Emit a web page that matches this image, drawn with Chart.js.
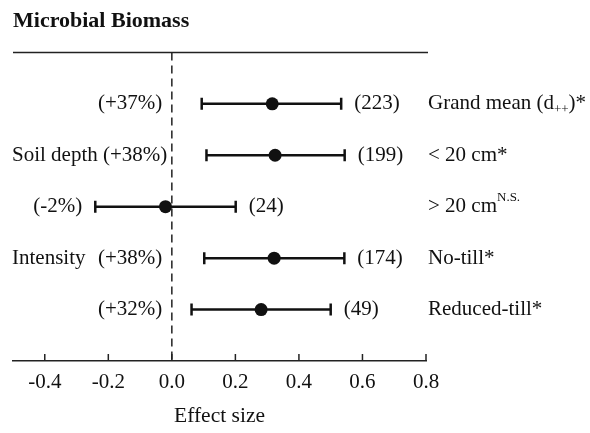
<!DOCTYPE html>
<html>
<head>
<meta charset="utf-8">
<script src="https://cdn.jsdelivr.net/npm/chart.js@4"></script>
<style>
  body { margin: 0; background: #fff; }
</style>
</head>
<body>
<canvas id="chart" width="590" height="433"></canvas>
<script>
// rows from top to bottom
const rowLabels = ['Grand mean (d_{++})*', '< 20 cm*', '> 20 cm^{N.S.}', 'No-till*', 'Reduced-till*'];
const groupLabels = ['', 'Soil depth', '', 'Intensity', ''];
const percents = ['(+37%)', '(+38%)', '(-2%)', '(+38%)', '(+32%)'];
const counts = ['(223)', '(199)', '(24)', '(174)', '(49)'];
const effect = [0.316, 0.325, -0.020, 0.322, 0.281];
const lower = [0.094, 0.109, -0.241, 0.102, 0.062];
const upper = [0.533, 0.544, 0.201, 0.543, 0.500];
const xTicks = [-0.4, -0.2, 0.0, 0.2, 0.4, 0.6, 0.8];

const serif = "'Liberation Serif', 'Times New Roman', serif";
const ink = '#111';
Chart.defaults.font.family = serif;
Chart.defaults.color = ink;

// one small line dataset per row for the confidence interval, caps are rotated line points
let ciSets = lower.map((lo, i) => ({
  type: 'line',
  data: [{x: lo, y: i + 1}, {x: upper[i], y: i + 1}],
  showLine: true,
  borderColor: ink,
  borderWidth: 2.5,
  pointStyle: 'line',
  rotation: 90,
  pointRadius: 6,
  pointBorderWidth: 2.5,
  pointBorderColor: ink
}));

let meanSet = {
  type: 'scatter',
  data: effect.map((v, i) => ({x: v, y: i + 1})),
  pointRadius: 6.5,
  pointBackgroundColor: ink,
  pointBorderWidth: 0
};

// draws a label with _{sub} and ^{sup} parts
function drawRich(ctx, text, x, y) {
  let parts = text.split(/(_\{[^}]*\}|\^\{[^}]*\})/);
  parts.forEach(p => {
    if (!p) return;
    let dy = 0;
    if (p.startsWith('_{')) {
      p = p.slice(2, -1); dy = 6;
      ctx.font = '13px ' + serif;
    } else if (p.startsWith('^{')) {
      p = p.slice(2, -1); dy = -9;
      ctx.font = '13px ' + serif;
    } else {
      ctx.font = '21px ' + serif;
    }
    ctx.fillText(p, x, y + dy);
    x += ctx.measureText(p).width;
  });
}

const forestText = {
  id: 'forestText',
  afterDraw(c) {
    let ctx = c.ctx;
    let xs = c.scales.x, ys = c.scales.y;
    let area = c.chartArea;
    ctx.save();
    ctx.strokeStyle = '#222';
    ctx.lineWidth = 1.5;

    // top rule
    ctx.beginPath();
    ctx.moveTo(area.left, area.top);
    ctx.lineTo(area.right + 2, area.top);
    ctx.stroke();

    // dashed zero line
    let x0 = xs.getPixelForValue(0);
    ctx.setLineDash([8, 5]);
    ctx.beginPath();
    ctx.moveTo(x0, area.top);
    ctx.lineTo(x0, area.bottom);
    ctx.stroke();
    ctx.setLineDash([]);

    // inward tick marks
    xs.ticks.forEach(t => {
      let px = xs.getPixelForValue(t.value);
      ctx.beginPath();
      ctx.moveTo(px, area.bottom);
      ctx.lineTo(px, area.bottom - 7);
      ctx.stroke();
    });

    ctx.fillStyle = ink;
    ctx.textBaseline = 'middle';
    rowLabels.forEach((lab, i) => {
      let py = ys.getPixelForValue(i + 1);
      let pLeft = xs.getPixelForValue(lower[i]);
      let pRight = xs.getPixelForValue(upper[i]);
      ctx.font = '21px ' + serif;

      // percent sits left of the zero line, pushed right when a group label is in the way
      let pEnd = Math.min(xs.getPixelForValue(-0.03), pLeft - 13);
      if (groupLabels[i]) {
        let gEnd = 12 + ctx.measureText(groupLabels[i] + ' ').width;
        pEnd = Math.max(pEnd, gEnd + ctx.measureText(percents[i]).width);
      }
      ctx.textAlign = 'right';
      ctx.fillText(percents[i], pEnd, py);

      ctx.textAlign = 'left';
      ctx.fillText(counts[i], pRight + 13, py);
      if (groupLabels[i]) ctx.fillText(groupLabels[i], 12, py);

      drawRich(ctx, lab, area.right + 2, py);
    });
    ctx.restore();
  }
};

new Chart(document.getElementById('chart'), {
  type: 'scatter',
  data: {datasets: [meanSet].concat(ciSets)},
  options: {
    responsive: false,
    animation: false,
    layout: {padding: {left: 13, right: 164, top: 0, bottom: 0}},
    plugins: {
      legend: {display: false},
      tooltip: {enabled: false},
      title: {
        display: true,
        text: 'Microbial Biomass',
        align: 'start',
        color: ink,
        font: {size: 22, weight: 'bold', family: serif},
        padding: {top: 8, bottom: 18}
      }
    },
    scales: {
      x: {
        type: 'linear',
        min: -0.5,
        max: 0.8,
        afterBuildTicks: s => { s.ticks = xTicks.map(v => ({value: v})); },
        afterFit: s => { s.height = 72; },
        grid: {display: true, drawOnChartArea: false, drawTicks: false},
        border: {display: true, color: '#222', width: 1.5},
        ticks: {
          padding: 9,
          color: ink,
          font: {size: 21},
          callback: v => v.toFixed(1)
        },
        title: {
          display: true,
          text: 'Effect size',
          color: ink,
          font: {size: 21.5},
          padding: {top: 0, bottom: 4}
        }
      },
      y: {
        type: 'linear',
        display: false,
        min: 0,
        max: 6,
        reverse: true
      }
    }
  },
  plugins: [forestText]
});
</script>
</body>
</html>
